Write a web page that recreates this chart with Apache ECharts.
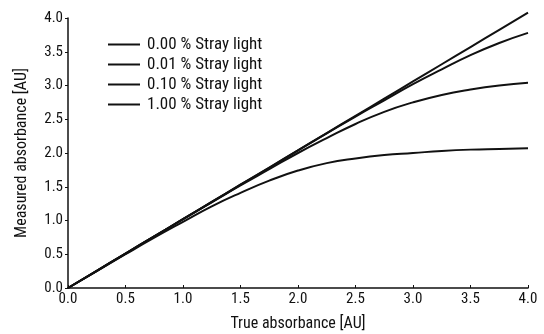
<!DOCTYPE html>
<html>
<head>
<meta charset="utf-8">
<script src="https://cdn.jsdelivr.net/npm/echarts@6/dist/echarts.min.js"></script>
<style>
  html, body { margin: 0; padding: 0; background: #fff; }
  #chart { width: 544px; height: 334px; }
</style>
</head>
<body>
<div id="chart"></div>
<script>
// True absorbance sample points (AU)
const trueAbs = [0, 0.25, 0.5, 0.75, 1.0, 1.25, 1.5, 1.75, 2.0, 2.25, 2.5, 2.75, 3.0, 3.25, 3.5, 3.75, 4.0];

// Measured absorbance for each stray-light level (AU)
const stray000 = [0, 0.255, 0.51, 0.765, 1.02, 1.275, 1.53, 1.785, 2.04, 2.295, 2.55, 2.805, 3.06, 3.315, 3.57, 3.825, 4.08];
const stray001 = [0, 0.255, 0.51, 0.765, 1.02, 1.275, 1.53, 1.78, 2.04, 2.29, 2.54, 2.78, 3.02, 3.24, 3.45, 3.63, 3.78];
const stray010 = [0, 0.255, 0.51, 0.765, 1.02, 1.27, 1.52, 1.76, 2.00, 2.22, 2.43, 2.61, 2.75, 2.86, 2.94, 3.00, 3.04];
const stray100 = [0, 0.25, 0.50, 0.745, 0.98, 1.21, 1.41, 1.59, 1.74, 1.85, 1.92, 1.97, 2.00, 2.03, 2.05, 2.06, 2.07];

const seriesNames = ['0.00 % Stray light', '0.01 % Stray light', '0.10 % Stray light', '1.00 % Stray light'];
const seriesValues = [stray000, stray001, stray010, stray100];

const axisTicks = ['0.0', '0.5', '1.0', '1.5', '2.0', '2.5', '3.0', '3.5', '4.0'];

const FONT = '"Liberation Sans Narrow", "Roboto Condensed", "DejaVu Sans Condensed", sans-serif';
const INK = '#111';

const chart = echarts.init(document.getElementById('chart'), null, { renderer: 'canvas' });

const series = seriesNames.map((name, i) => ({
  name: name,
  type: 'line',
  data: trueAbs.map((x, j) => [x, seriesValues[i][j]]),
  showSymbol: false,
  symbol: 'none',
  smooth: true,
  clip: false,
  lineStyle: { color: INK, width: 2 },
  itemStyle: { color: INK },
  animation: false
}));

chart.setOption({
  animation: false,
  backgroundColor: '#fff',
  textStyle: { fontFamily: FONT, color: INK },
  grid: { left: 68, right: 16, top: 18, bottom: 46, containLabel: false, outerBoundsMode: 'none' },
  legend: {
    data: seriesNames,
    orient: 'vertical',
    left: 103,
    top: 31,
    itemWidth: 32,
    itemHeight: 2,
    itemGap: 3,
    icon: 'rect',
    textStyle: { fontFamily: FONT, fontSize: 17, color: INK, padding: [0, 0, 0, 2] }
  },
  xAxis: {
    type: 'value',
    min: 0,
    max: 4,
    interval: 0.5,
    name: 'True absorbance [AU]',
    nameLocation: 'middle',
    nameGap: 28,
    nameTextStyle: { fontFamily: FONT, fontSize: 16, color: INK },
    axisLine: { lineStyle: { color: INK, width: 1.5 } },
    axisTick: { inside: true, length: 3, lineStyle: { color: INK } },
    splitLine: { show: false },
    axisLabel: {
      fontFamily: FONT, fontSize: 15, color: INK, margin: 4,
      formatter: (v) => axisTicks[Math.round(v / 0.5)]
    }
  },
  yAxis: {
    type: 'value',
    min: 0,
    max: 4,
    interval: 0.5,
    name: 'Measured absorbance [AU]',
    nameLocation: 'middle',
    nameGap: 38,
    nameTextStyle: { fontFamily: FONT, fontSize: 16, color: INK },
    axisLine: { show: true, lineStyle: { color: INK, width: 1.5 } },
    axisTick: { show: true, length: 3, lineStyle: { color: INK } },
    splitLine: { show: false },
    axisLabel: {
      fontFamily: FONT, fontSize: 15, color: INK, margin: 5,
      formatter: (v) => axisTicks[Math.round(v / 0.5)]
    }
  },
  series: series
});
</script>
</body>
</html>
